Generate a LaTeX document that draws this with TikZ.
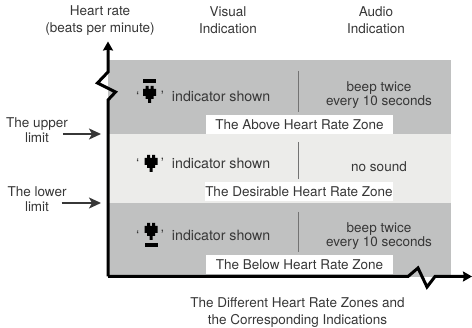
\documentclass[tikz,border=0pt]{standalone}
\usepackage{fontspec}
\setmainfont{TeX Gyre Heros}
\usetikzlibrary{arrows.meta, positioning}
\definecolor{zonegrey}{RGB}{192,193,193}
\definecolor{zonelight}{RGB}{236,236,234}
\definecolor{labeltext}{RGB}{55,55,55}
\newcommand{\labelfont}{\fontsize{13.5}{17}\selectfont}
% pixel heart, (#1,#2) is the middle of its top edge
\newcommand{\pixelheart}[2]{
    \fill[black, shift={(#1,#2)}] (-4,0) -- (-1,0) -- (-1,3) -- (1,3) -- (1,0) -- (4,0) -- (4,3) -- (6.5,3) -- (6.5,10) -- (4,10) -- (4,13) -- (1.5,13) -- (1.5,17) -- (-1.5,17) -- (-1.5,13) -- (-4,13) -- (-4,10) -- (-6.5,10) -- (-6.5,3) -- (-4,3) -- cycle;
}
\tikzset{
    zoneband/.style={minimum width=343pt, inner sep=0pt, outer sep=0pt},
    zonetitle/.style={fill=white, text=labeltext, font=\labelfont, minimum width=187pt, minimum height=19pt, inner sep=0pt},
    plain/.style={text=labeltext, font=\labelfont, align=center, inner sep=0pt},
    shown/.style={text=labeltext, font=\fontsize{14.2}{17}\selectfont, anchor=west, inner sep=0pt},
    beep/.style={text=labeltext, font=\fontsize{13.5}{14}\selectfont, align=center, inner sep=0pt},
    tworow/.style={text=labeltext, font=\fontsize{13.5}{15.5}\selectfont, align=center, inner sep=0pt},
    axisline/.style={line width=3pt, -{Stealth[length=9pt, width=10pt, inset=1pt]}, line join=miter},
    limitarrow/.style={line width=1.6pt, draw=labeltext, -{Stealth[length=12pt, width=11pt, inset=3pt]}},
    divider/.style={line width=1pt, draw=black!55},
    limitbar/.style={fill=black, minimum width=13pt, minimum height=4pt, inner sep=0pt}
}
\begin{document}
\begin{tikzpicture}[x=1pt, y=-1pt]
    \useasboundingbox (0,0) rectangle (472,328);

    % zone bands
    \node[zoneband, fill=zonegrey, minimum height=74pt, anchor=north west] (above) at (108,60) {};
    \node[zoneband, fill=zonelight, minimum height=69pt, below=0pt of above] (desirable) {};
    \node[zoneband, fill=zonegrey, minimum height=74pt, below=0pt of desirable] (below) {};

    % zone names
    \node[zonetitle] (abovename) at (299.5,124.5) {The Above Heart Rate Zone};
    \node[zonetitle] (desirablename) at (299,191.5) {The Desirable Heart Rate Zone};
    \node[zonetitle] (belowname) at (299.5,265) {The Below Heart Rate Zone};

    % dividers
    \coordinate (abovetop) at (298,71);
    \coordinate (desirabletop) at (298,142);
    \coordinate (belowtop) at (298,212);
    \draw[divider] (abovetop) -- ++(0,41);
    \draw[divider] (desirabletop) -- ++(0,37);
    \draw[divider] (belowtop) -- ++(0,40);

    % heart icons
    \node[limitbar] (abovebar) at (149.5,81) {};
    \pixelheart{149.5}{86}
    \pixelheart{151}{155}
    \pixelheart{151}{223}
    \node[limitbar] (belowbar) at (151,245) {};

    % visual indication
    \node[shown] (aboveshown) at (136,96.5) {‘\hspace{21.5pt}’\hspace{8pt}indicator shown};
    \node[shown] (desirableshown) at (136,163) {‘\hspace{21.5pt}’\hspace{8pt}indicator shown};
    \node[shown] (belowshown) at (136,235) {‘\hspace{21.5pt}’\hspace{8pt}indicator shown};

    % audio indication
    \node[beep] (abovebeep) at (379,95) {beep twice\\every 10 seconds};
    \node[plain] (desirablesound) at (379,167) {no sound};
    \node[beep] (belowbeep) at (379,236) {beep twice\\every 10 seconds};

    % axes
    \coordinate (origin) at (108,276.5);
    \draw[axisline] (origin) -- (108,100) -- (115.5,92) -- (97.5,83) -- (108,72) -- (108,41.5);
    \draw[axisline] (origin) -- (408,276.5) -- (418,268) -- (427,287) -- (435,276.5) -- (472,276.5);

    % column titles
    \node[plain] (rate) at (100,20.5) {Heart rate\\(beats per minute)};
    \node[plain] (visual) at (228,20.5) {Visual\\Indication};
    \node[plain] (audio) at (376,20.5) {Audio\\Indication};

    % limits
    \node[tworow] (upper) at (37,130) {The upper\\limit};
    \node[tworow] (lower) at (37,199) {The lower\\limit};
    \coordinate (upperlimit) at (101,134);
    \coordinate (lowerlimit) at (101,203);
    \draw[limitarrow] ([xshift=-5pt]upper.east |- upperlimit) -- (upperlimit);
    \draw[limitarrow] ([xshift=-5pt]lower.east |- lowerlimit) -- (lowerlimit);

    \node[plain] (caption) at (297.5,313) {The Different Heart Rate Zones and\\the Corresponding Indications};
\end{tikzpicture}
\end{document}
